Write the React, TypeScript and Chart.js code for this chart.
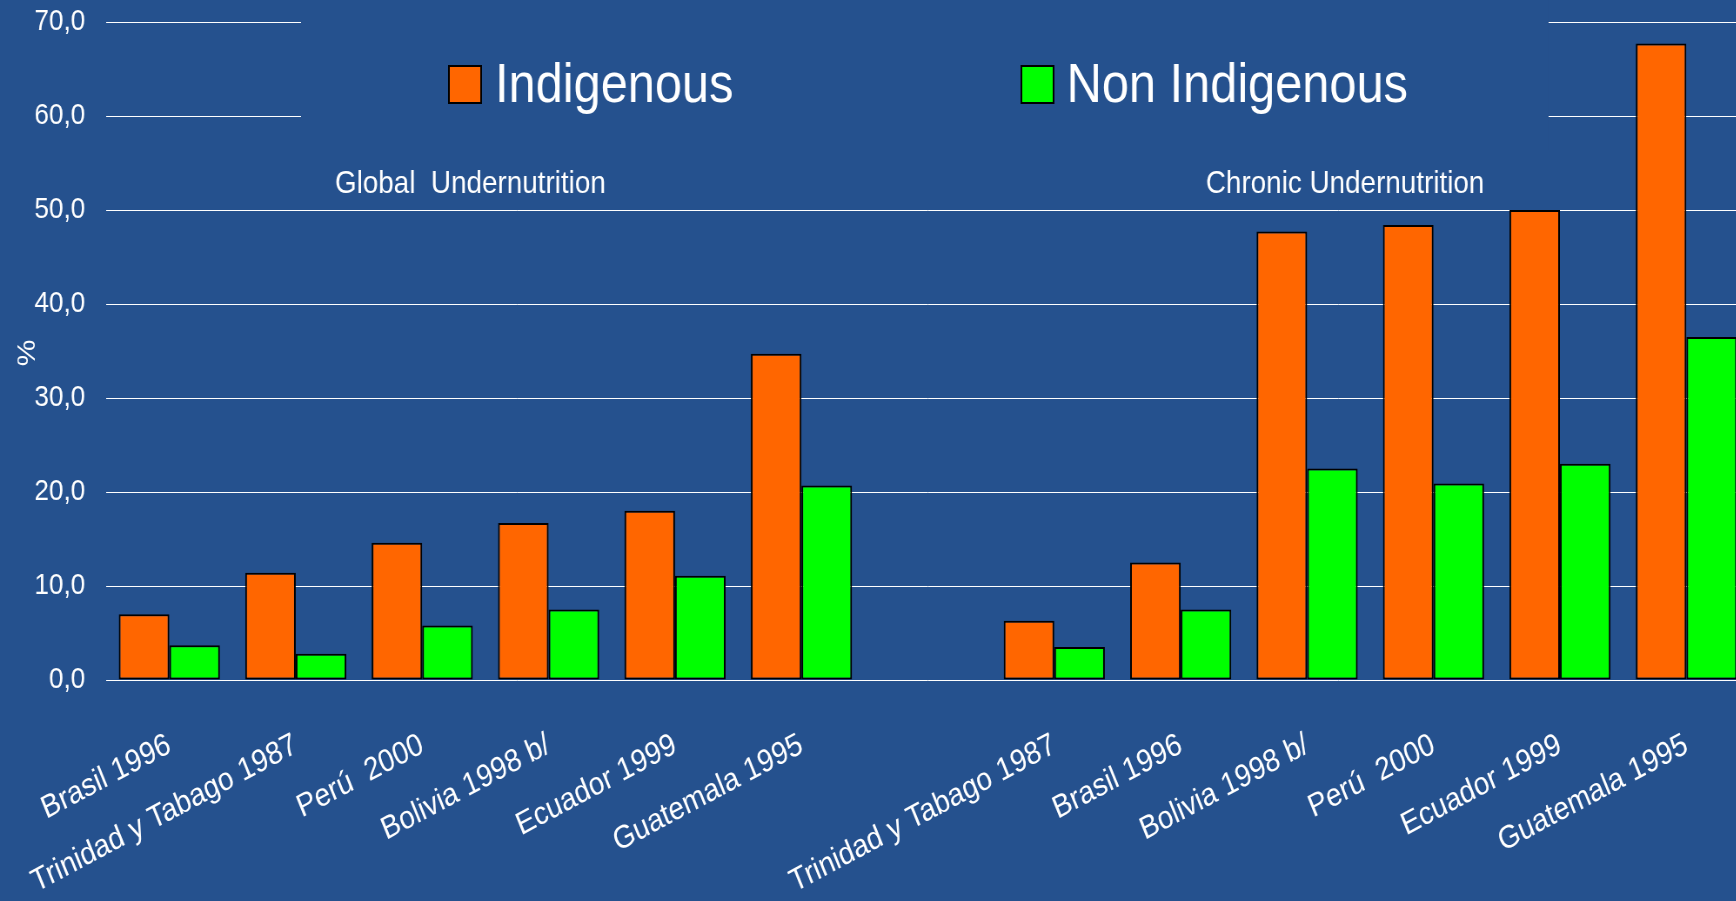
import React, { useEffect, useRef } from "react";
import { Chart, registerables } from "chart.js";

Chart.register(...registerables);

const categories = [
  "Brasil 1996",
  "Trinidad y Tabago 1987",
  "Perú  2000",
  "Bolivia 1998 b/",
  "Ecuador 1999",
  "Guatemala 1995",
  "",
  "Trinidad y Tabago 1987",
  "Brasil 1996",
  "Bolivia 1998 b/",
  "Perú  2000",
  "Ecuador 1999",
  "Guatemala 1995",
];

const indigenous = [7.0, 11.4, 14.6, 16.7, 18.0, 34.7, null, 6.3, 12.5, 47.7, 48.4, 50.0, 67.7];
const nonIndigenous = [3.7, 2.8, 5.8, 7.5, 11.1, 20.7, null, 3.5, 7.5, 22.5, 20.9, 23.0, 36.5];

const seriesNames = ["Indigenous", "Non Indigenous"];
const groupTitles = ["Global  Undernutrition", "Chronic Undernutrition"];
const yTicks = [0, 10, 20, 30, 40, 50, 60, 70];

const BG = "#25518E";
const ORANGE = "#FF6600";
const GREEN = "#00FF00";
const FONT = "'Liberation Sans', Arial, sans-serif";
const SQUASH = 0.87;
const CANVAS_W = 2040;
const CANVAS_H = 901;

const overlayPlugin = {
  id: "overlay",
  beforeDatasetsDraw(chart: any) {
    const ctx = chart.ctx;
    ctx.save();
    ctx.fillStyle = BG;
    ctx.fillRect(346, 0, 1780 - 346, 150);
    ctx.restore();
  },
  afterDatasetsDraw(chart: any) {
    const ctx = chart.ctx;
    ctx.save();
    const items = [
      { x: 516, tx: 569, color: ORANGE, label: seriesNames[0] },
      { x: 1174, tx: 1226, color: GREEN, label: seriesNames[1] },
    ];
    items.forEach((it) => {
      ctx.fillStyle = it.color;
      ctx.fillRect(it.x, 66, 37, 37);
      ctx.lineWidth = 2;
      ctx.strokeStyle = "#000";
      ctx.strokeRect(it.x, 66, 37, 37);
      ctx.fillStyle = "#FFFFFF";
      ctx.font = `56px ${FONT}`;
      ctx.textAlign = "left";
      ctx.textBaseline = "alphabetic";
      ctx.fillText(it.label, it.tx, 102);
    });
    ctx.font = `32px ${FONT}`;
    ctx.fillText(groupTitles[0], 385, 193);
    ctx.fillText(groupTitles[1], 1386, 193);
    ctx.translate(32, 353);
    ctx.rotate(-Math.PI / 2);
    ctx.textAlign = "center";
    ctx.textBaseline = "middle";
    ctx.font = `30px ${FONT}`;
    ctx.fillText("%", 0, 0);
    ctx.restore();
  },
};

export default function App() {
  const ref = useRef<HTMLCanvasElement | null>(null);

  useEffect(() => {
    if (!ref.current) return;
    const chart = new Chart(ref.current, {
      type: "bar",
      data: {
        labels: categories,
        datasets: [
          {
            label: seriesNames[0],
            data: indigenous,
            backgroundColor: ORANGE,
            borderColor: "#000000",
            borderWidth: 2,
            borderSkipped: false,
            categoryPercentage: 0.8,
            barPercentage: 1.0,
          },
          {
            label: seriesNames[1],
            data: nonIndigenous,
            backgroundColor: GREEN,
            borderColor: "#000000",
            borderWidth: 2,
            borderSkipped: false,
            categoryPercentage: 0.8,
            barPercentage: 1.0,
          },
        ],
      },
      options: {
        responsive: false,
        animation: false,
        devicePixelRatio: 1,
        layout: { padding: { top: 22, right: 29, bottom: 0, left: 0 } },
        plugins: {
          legend: { display: false },
          tooltip: { enabled: false },
        },
        scales: {
          x: {
            grid: { display: false },
            border: { display: false },
            ticks: {
              color: "#FFFFFF",
              font: { family: FONT, size: 32 },
              minRotation: 25,
              maxRotation: 25,
              autoSkip: false,
              padding: 38,
            },
            afterFit: (s: any) => {
              s.height = 221;
              s.paddingLeft = 0;
              s.paddingRight = 0;
            },
          },
          y: {
            min: 0,
            max: 70,
            afterBuildTicks: (s: any) => {
              s.ticks = yTicks.map((v) => ({ value: v }));
            },
            ticks: {
              color: "#FFFFFF",
              font: { family: FONT, size: 30 },
              padding: 24,
              callback: (v: any) => Number(v).toFixed(1).replace(".", ","),
            },
            grid: { color: "#FFFFFF", lineWidth: 1, drawTicks: false },
            border: { display: false },
            afterFit: (s: any) => {
              s.width = 122;
              s.paddingTop = 0;
              s.paddingBottom = 0;
            },
          },
        },
      },
      plugins: [overlayPlugin],
    } as any);
    return () => chart.destroy();
  }, []);

  return (
    <div
      style={{
        position: "fixed",
        left: 0,
        top: 0,
        width: 1736,
        height: 901,
        overflow: "hidden",
        background: BG,
      }}
    >
      <canvas
        ref={ref}
        width={CANVAS_W}
        height={CANVAS_H}
        style={{
          display: "block",
          transform: `scaleX(${SQUASH})`,
          transformOrigin: "0 0",
        }}
      />
    </div>
  );
}
